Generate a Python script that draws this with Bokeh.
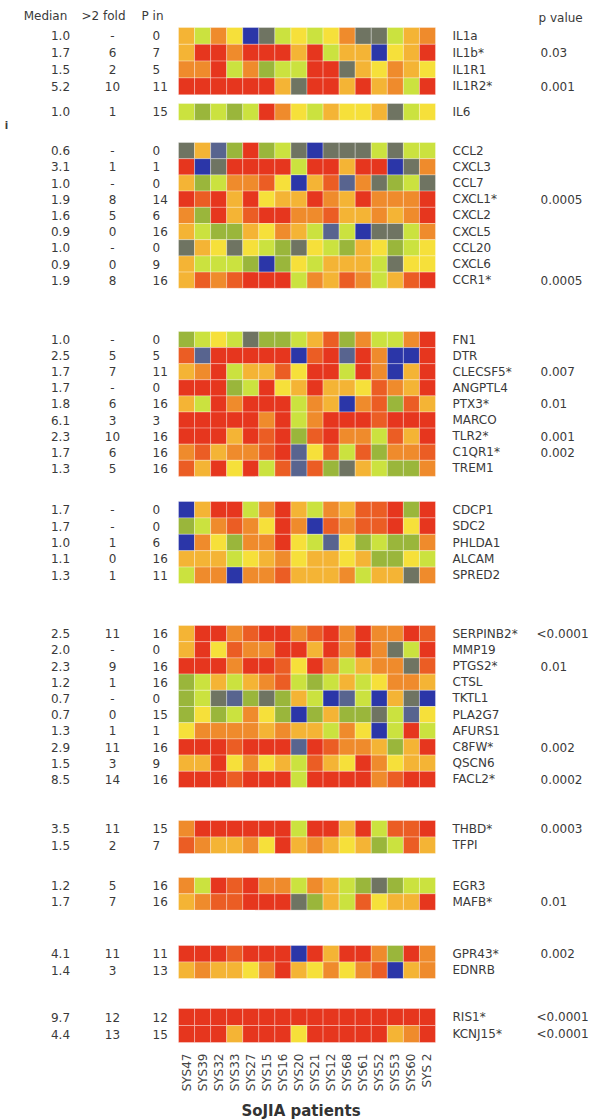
from bokeh.plotting import figure
from bokeh.models import Range1d, ColumnDataSource, LinearColorMapper
from bokeh.transform import transform
from bokeh.core.properties import value
from bokeh.embed import file_html
from bokeh.resources import INLINE
import math

# ---------------- data ----------------
patients = ["SYS47", "SYS39", "SYS32", "SYS33", "SYS27", "SYS15", "SYS16", "SYS20",
            "SYS21", "SYS12", "SYS68", "SYS61", "SYS52", "SYS53", "SYS60", "SYS 2"]

# expression level bins: 0 = lowest (blue) ... 9 = highest (red)
genes_il1 = ["IL1a", "IL1b*", "IL1R1", "IL1R2*"]
median_il1 = ["1.0", "1.7", "1.5", "5.2"]
fold_il1 = ["-", "6", "2", "10"]
pin_il1 = ["0", "7", "5", "11"]
pval_il1 = ["", "0.03", "", "0.001"]
levels_il1 = [
    [6, 4, 7, 5, 0, 2, 4, 5, 4, 5, 7, 2, 2, 4, 6, 7],
    [6, 9, 9, 7, 9, 9, 9, 6, 9, 4, 6, 6, 0, 5, 6, 9],
    [7, 7, 9, 4, 7, 3, 4, 4, 9, 9, 2, 6, 5, 7, 6, 5],
    [9, 9, 9, 9, 9, 9, 6, 2, 9, 9, 6, 9, 6, 7, 4, 9],
]

genes_il6 = ["IL6"]
median_il6 = ["1.0"]
fold_il6 = ["1"]
pin_il6 = ["15"]
pval_il6 = [""]
levels_il6 = [
    [4, 3, 4, 3, 4, 9, 7, 5, 4, 6, 5, 5, 6, 2, 4, 5],
]

genes_chem = ["CCL2", "CXCL3", "CCL7", "CXCL1*", "CXCL2", "CXCL5", "CCL20", "CXCL6", "CCR1*"]
median_chem = ["0.6", "3.1", "1.0", "1.9", "1.6", "0.9", "1.0", "0.9", "1.9"]
fold_chem = ["-", "1", "-", "8", "5", "0", "-", "0", "8"]
pin_chem = ["0", "1", "0", "14", "6", "16", "0", "9", "16"]
pval_chem = ["", "", "", "0.0005", "", "", "", "", "0.0005"]
levels_chem = [
    [2, 6, 1, 3, 9, 3, 4, 2, 0, 2, 2, 2, 4, 2, 4, 4],
    [9, 0, 2, 9, 9, 9, 9, 4, 9, 9, 6, 9, 9, 0, 2, 7],
    [6, 3, 4, 7, 7, 8, 5, 0, 6, 8, 1, 7, 2, 3, 4, 2],
    [9, 8, 9, 6, 9, 5, 6, 6, 9, 7, 6, 9, 7, 7, 7, 9],
    [7, 3, 9, 6, 8, 9, 9, 7, 7, 8, 6, 6, 7, 6, 7, 9],
    [6, 4, 3, 3, 6, 5, 7, 6, 4, 1, 4, 0, 2, 2, 4, 7],
    [2, 6, 5, 2, 5, 4, 3, 2, 5, 4, 3, 6, 5, 3, 4, 5],
    [6, 4, 4, 4, 3, 0, 3, 5, 4, 6, 6, 6, 4, 2, 5, 5],
    [6, 8, 7, 8, 9, 9, 9, 4, 7, 6, 8, 7, 4, 6, 8, 9],
]

genes_innate = ["FN1", "DTR", "CLECSF5*", "ANGPTL4", "PTX3*", "MARCO", "TLR2*", "C1QR1*", "TREM1"]
median_innate = ["1.0", "2.5", "1.7", "1.7", "1.8", "6.1", "2.3", "1.7", "1.3"]
fold_innate = ["-", "5", "7", "-", "6", "3", "10", "6", "5"]
pin_innate = ["0", "5", "11", "0", "16", "3", "16", "16", "16"]
pval_innate = ["", "", "0.007", "", "0.01", "", "0.001", "0.002", ""]
levels_innate = [
    [3, 4, 5, 4, 2, 3, 3, 4, 6, 8, 3, 7, 4, 4, 7, 9],
    [8, 1, 9, 9, 9, 9, 9, 0, 8, 9, 1, 9, 7, 0, 0, 9],
    [6, 7, 9, 4, 6, 6, 8, 5, 9, 9, 4, 9, 7, 0, 6, 9],
    [9, 9, 9, 3, 4, 9, 5, 6, 9, 6, 6, 5, 8, 7, 6, 9],
    [6, 4, 9, 7, 9, 9, 9, 4, 7, 6, 0, 7, 8, 3, 8, 6],
    [9, 9, 9, 9, 9, 7, 9, 4, 7, 9, 9, 9, 8, 9, 9, 9],
    [9, 9, 9, 6, 9, 8, 9, 3, 8, 9, 7, 7, 4, 8, 6, 9],
    [7, 8, 6, 7, 7, 8, 9, 1, 5, 8, 4, 8, 3, 7, 7, 8],
    [8, 6, 9, 5, 9, 4, 8, 1, 8, 3, 2, 6, 4, 3, 3, 7],
]

genes_adh = ["CDCP1", "SDC2", "PHLDA1", "ALCAM", "SPRED2"]
median_adh = ["1.7", "1.7", "1.0", "1.1", "1.3"]
fold_adh = ["-", "-", "1", "0", "1"]
pin_adh = ["0", "0", "6", "16", "11"]
pval_adh = ["", "", "", "", ""]
levels_adh = [
    [0, 6, 9, 9, 4, 7, 9, 6, 4, 7, 6, 8, 8, 9, 3, 9],
    [3, 4, 7, 8, 7, 5, 9, 7, 0, 8, 7, 8, 8, 9, 5, 9],
    [0, 7, 5, 3, 7, 7, 9, 5, 4, 1, 5, 3, 4, 3, 3, 7],
    [6, 6, 6, 4, 5, 6, 7, 5, 6, 6, 5, 6, 3, 3, 5, 4],
    [4, 7, 7, 0, 7, 7, 8, 6, 6, 6, 7, 4, 6, 6, 2, 7],
]

genes_enz = ["SERPINB2*", "MMP19", "PTGS2*", "CTSL", "TKTL1", "PLA2G7", "AFURS1",
             "C8FW*", "QSCN6", "FACL2*"]
median_enz = ["2.5", "2.0", "2.3", "1.2", "0.7", "0.7", "1.3", "2.9", "1.5", "8.5"]
fold_enz = ["11", "-", "9", "1", "-", "0", "1", "11", "3", "14"]
pin_enz = ["16", "0", "16", "16", "0", "15", "1", "16", "9", "16"]
pval_enz = ["<0.0001", "", "0.01", "", "", "", "", "0.002", "", "0.0002"]
levels_enz = [
    [6, 9, 9, 7, 8, 9, 9, 7, 8, 9, 7, 9, 7, 7, 9, 8],
    [6, 9, 5, 8, 7, 7, 9, 9, 6, 9, 7, 9, 7, 2, 4, 9],
    [9, 9, 9, 7, 9, 9, 8, 5, 9, 7, 4, 6, 7, 7, 2, 8],
    [3, 4, 6, 4, 6, 7, 8, 4, 3, 4, 6, 4, 5, 7, 7, 6],
    [3, 4, 2, 1, 3, 2, 3, 6, 4, 0, 1, 4, 0, 6, 2, 0],
    [3, 5, 3, 4, 7, 5, 3, 0, 3, 6, 3, 3, 2, 4, 1, 5],
    [5, 7, 7, 7, 7, 6, 7, 6, 6, 4, 7, 5, 0, 4, 9, 4],
    [9, 9, 9, 8, 9, 9, 9, 1, 9, 8, 7, 7, 6, 3, 6, 9],
    [6, 6, 9, 5, 7, 5, 6, 4, 8, 6, 5, 9, 7, 5, 6, 6],
    [9, 9, 9, 8, 9, 9, 9, 4, 9, 9, 9, 9, 7, 8, 9, 9],
]

genes_coag = ["THBD*", "TFPI"]
median_coag = ["3.5", "1.5"]
fold_coag = ["11", "2"]
pin_coag = ["15", "7"]
pval_coag = ["0.0003", ""]
levels_coag = [
    [7, 9, 9, 9, 9, 9, 9, 4, 9, 9, 6, 9, 4, 8, 8, 9],
    [8, 7, 6, 6, 7, 5, 9, 6, 7, 6, 5, 6, 3, 4, 8, 6],
]

genes_tf = ["EGR3", "MAFB*"]
median_tf = ["1.2", "1.7"]
fold_tf = ["5", "7"]
pin_tf = ["16", "16"]
pval_tf = ["", "0.01"]
levels_tf = [
    [7, 4, 9, 8, 9, 7, 7, 4, 7, 6, 4, 3, 2, 3, 4, 4],
    [6, 7, 8, 8, 9, 9, 9, 2, 3, 6, 4, 8, 5, 6, 6, 9],
]

genes_rec = ["GPR43*", "EDNRB"]
median_rec = ["4.1", "1.4"]
fold_rec = ["11", "3"]
pin_rec = ["11", "13"]
pval_rec = ["0.002", ""]
levels_rec = [
    [9, 9, 9, 8, 9, 9, 9, 0, 9, 6, 9, 9, 7, 3, 9, 7],
    [6, 7, 6, 6, 5, 7, 9, 6, 5, 7, 5, 7, 8, 0, 6, 7],
]

genes_ris = ["RIS1*", "KCNJ15*"]
median_ris = ["9.7", "4.4"]
fold_ris = ["12", "13"]
pin_ris = ["12", "15"]
pval_ris = ["<0.0001", "<0.0001"]
levels_ris = [
    [9, 9, 9, 9, 9, 9, 9, 9, 9, 9, 9, 9, 9, 9, 9, 9],
    [9, 9, 9, 6, 9, 9, 9, 5, 9, 9, 9, 9, 9, 6, 7, 9],
]

groups = [
    (genes_il1, median_il1, fold_il1, pin_il1, pval_il1, levels_il1),
    (genes_il6, median_il6, fold_il6, pin_il6, pval_il6, levels_il6),
    (genes_chem, median_chem, fold_chem, pin_chem, pval_chem, levels_chem),
    (genes_innate, median_innate, fold_innate, pin_innate, pval_innate, levels_innate),
    (genes_adh, median_adh, fold_adh, pin_adh, pval_adh, levels_adh),
    (genes_enz, median_enz, fold_enz, pin_enz, pval_enz, levels_enz),
    (genes_coag, median_coag, fold_coag, pin_coag, pval_coag, levels_coag),
    (genes_tf, median_tf, fold_tf, pin_tf, pval_tf, levels_tf),
    (genes_rec, median_rec, fold_rec, pin_rec, pval_rec, levels_rec),
    (genes_ris, median_ris, fold_ris, pin_ris, pval_ris, levels_ris),
]

# ---------------- layout (page pixel frame) ----------------
group_top = [27, 103, 142, 331, 501, 625, 820, 877, 945, 1008]
group_row_h = [16.8, 16.8, 16.2, 16.1, 16.4, 16.2, 16.5, 16.3, 16.5, 17.0]
X0, X1 = 178.0, 435.0
CW = (X1 - X0) / len(patients)

palette = ["#2b36a8", "#58648f", "#6f7462", "#9ab63b", "#cbe23f",
           "#f6e03a", "#f4b435", "#ef8b2c", "#eb5d24", "#e6361e"]
mapper = LinearColorMapper(palette=palette, low=-0.5, high=9.5)

cells = dict(x=[], y=[], h=[], level=[])
rows = dict(y=[], gene=[], median=[], fold=[], pin=[], pval=[], pval_x=[])
for gi, (genes, med, fold, pin, pval, levels) in enumerate(groups):
    top, rh = group_top[gi], group_row_h[gi]
    for ri, g in enumerate(genes):
        yc = top + rh * (ri + 0.5)
        for ci, lv in enumerate(levels[ri]):
            cells["x"].append(X0 + CW * (ci + 0.5))
            cells["y"].append(yc)
            cells["h"].append(rh)
            cells["level"].append(lv)
        rows["y"].append(yc)
        rows["gene"].append(g)
        rows["median"].append(med[ri])
        rows["fold"].append(fold[ri])
        rows["pin"].append(pin[ri])
        rows["pval"].append(pval[ri])
        rows["pval_x"].append(536 if pval[ri].startswith("<") else 540)

p = figure(width=600, height=1120, x_range=Range1d(0, 600), y_range=Range1d(1120, 0),
           output_backend="svg", toolbar_location=None, min_border=0)
p.axis.visible = False
p.grid.visible = False
p.outline_line_color = None
p.background_fill_color = "white"

src = ColumnDataSource(cells)
p.rect(x="x", y="y", width=CW, height="h", source=src,
       fill_color=transform("level", mapper), line_color="white",
       line_alpha=0.4, line_width=0.8)

FONT = value("DejaVu Sans")
TXT = "#3a3a3a"
FS = "12px"
rsrc = ColumnDataSource(rows)
p.text(x=60, y="y", text="median", source=rsrc, text_font=FONT, text_font_size=FS,
       text_color=TXT, text_align="center", text_baseline="middle")
p.text(x=112, y="y", text="fold", source=rsrc, text_font=FONT, text_font_size=FS,
       text_color=TXT, text_align="center", text_baseline="middle")
p.text(x=152, y="y", text="pin", source=rsrc, text_font=FONT, text_font_size=FS,
       text_color=TXT, text_align="left", text_baseline="middle")
p.text(x=452, y="y", text="gene", source=rsrc, text_font=FONT, text_font_size=FS,
       text_color=TXT, text_align="left", text_baseline="middle")
p.text(x="pval_x", y="y", text="pval", source=rsrc, text_font=FONT, text_font_size=FS,
       text_color=TXT, text_align="left", text_baseline="middle")

# column headers
p.text(x=[45, 103], y=[15, 15], text=["Median", ">2 fold"], text_font=FONT,
       text_font_size=FS, text_color=TXT, text_align="center", text_baseline="middle")
p.text(x=[141], y=[15], text=["P in"], text_font=FONT, text_font_size=FS,
       text_color=TXT, text_align="left", text_baseline="middle")
p.text(x=[538], y=[17], text=["p value"], text_font=FONT, text_font_size=FS,
       text_color=TXT, text_align="left", text_baseline="middle")
p.text(x=[6], y=[125], text=["i"], text_font=FONT, text_font_size="10px",
       text_color=TXT, text_font_style="bold", text_align="center", text_baseline="middle")

# patient labels (vertical)
psrc = ColumnDataSource(dict(x=[X0 + CW * (i + 0.5) for i in range(len(patients))],
                             y=[1053] * len(patients), t=patients))
p.text(x="x", y="y", text="t", source=psrc, angle=math.pi / 2, text_font=FONT,
       text_font_size="12px", text_color="#444444", text_align="right",
       text_baseline="middle")

p.text(x=[(X0 + X1) / 2 - 6], y=[1110], text=["SoJIA patients"], text_font=FONT,
       text_font_size="15px", text_font_style="bold", text_color="#333333",
       text_align="center", text_baseline="middle")

open("out.html", "w").write(file_html(p, INLINE))
